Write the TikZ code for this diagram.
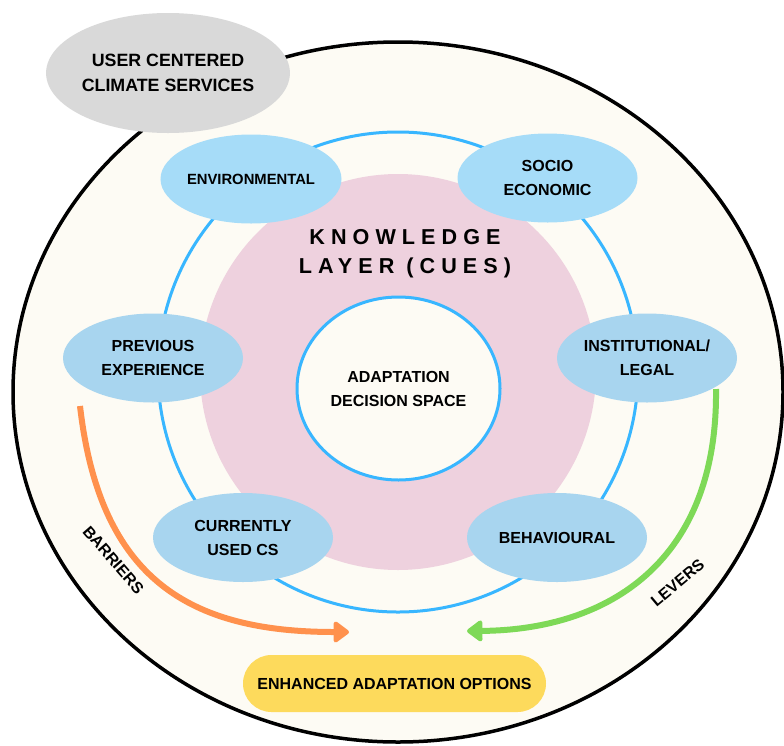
\documentclass[tikz,border=0pt]{standalone}
\usepackage{fontspec}
\setmainfont{Liberation Sans}
\newfontfamily\spacedfont{Liberation Sans}[LetterSpace=28]
\usetikzlibrary{shapes.geometric,arrows.meta}
\definecolor{cream}{HTML}{FDFBF4}
\definecolor{ringblue}{HTML}{38B6FF}
\definecolor{layerpink}{HTML}{EED1DE}
\definecolor{cueA}{HTML}{A6DCF8}
\definecolor{cueB}{HTML}{A8D5EF}
\definecolor{ucsgray}{HTML}{D9D9D9}
\definecolor{eaoyellow}{HTML}{FDDA5C}
\definecolor{barorange}{HTML}{FF914D}
\definecolor{levgreen}{HTML}{7ED957}
\begin{document}
\begin{tikzpicture}[x=1pt,y=-1pt,
  lbl/.style={font=\bfseries\fontsize{16}{24}\selectfont, align=center, text=black},
  cue/.style={ellipse, minimum width=180, minimum height=89, inner sep=0, lbl},
  flow/.style={line width=6, line cap=butt}
]
\useasboundingbox (0,0) rectangle (784,745);
\fill[white] (0,0) rectangle (784,745);
% outer layer
\node[ellipse, draw=black, line width=3.5, fill=cream, minimum width=770, minimum height=700, inner sep=0] (outer) at (398,392) {};
% user centered climate services
\node[ellipse, fill=ucsgray, minimum width=238, minimum height=120, inner sep=0, lbl, font=\bfseries\fontsize{17.8}{25}\selectfont] (ucs) at (168,73) {USER CENTERED\\CLIMATE SERVICES};
% cue ring
\node[circle, draw=ringblue, line width=3, minimum size=480, inner sep=0] (ring) at (398,372) {};
% knowledge layer
\node[circle, fill=layerpink, minimum size=396, inner sep=0] (layer) at (398,372) {};
\node[font=\spacedfont\bfseries\fontsize{21.6}{29}\selectfont, align=center, inner sep=0] (klabel) at (405,254) {KNOWLEDGE\\LAYER (CUES)};
% decision space
\node[ellipse, draw=ringblue, line width=3, fill=cream, minimum width=203, minimum height=183, inner sep=0, lbl] (ads) at (398.5,388.5) {ADAPTATION\\DECISION SPACE};
% cues
\node[cue, fill=cueA, font=\bfseries\fontsize{14.8}{24}\selectfont] (env) at (251,179) {ENVIRONMENTAL};
\node[cue, fill=cueA] (soc) at (547.5,178) {SOCIO\\ECONOMIC};
\node[cue, fill=cueB] (prev) at (153,358) {PREVIOUS\\EXPERIENCE};
\node[cue, fill=cueB] (inst) at (647,358) {INSTITUTIONAL/\\LEGAL};
\node[cue, fill=cueB] (curr) at (243,537.5) {CURRENTLY\\USED CS};
\node[cue, fill=cueB] (beh) at (557,537.5) {BEHAVIOURAL};
% enhanced adaptation options
\node[fill=eaoyellow, rounded corners=28.5, minimum width=303, minimum height=57, inner sep=0, lbl] (eao) at (394.5,683.5) {ENHANCED ADAPTATION OPTIONS};
% barriers and levers
\coordinate (barS) at (80,406);
\coordinate (barE) at (349,632);
\coordinate (levS) at (716,389);
\coordinate (levE) at (467,631);
\draw[flow, barorange, -{Triangle[width=24,length=17,round]}] (barS) .. controls (100,580) and (190,632) .. (barE);
\draw[flow, levgreen, -{Triangle[width=24,length=17,round]}] (levS) .. controls (718,560) and (610,630) .. (levE);
\node[lbl, rotate=-49] (barlbl) at (113.5,560) {BARRIERS};
\node[lbl, rotate=40] (levlbl) at (677.5,582.5) {LEVERS};
\end{tikzpicture}
\end{document}
